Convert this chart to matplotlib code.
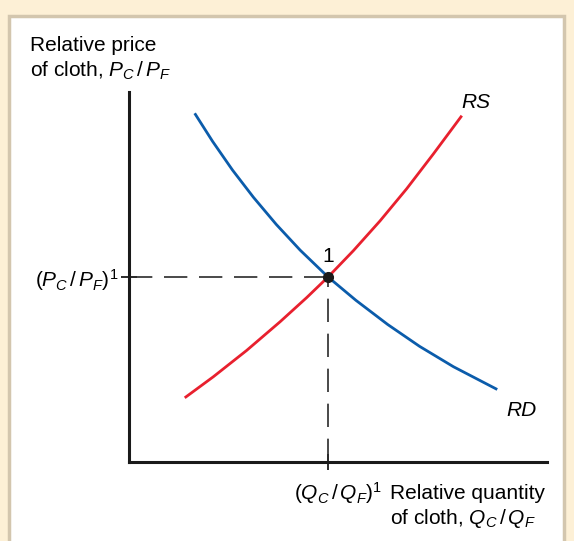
import matplotlib.pyplot as plt
from matplotlib.patches import Rectangle

plt.rcParams['font.family'] = ['Liberation Sans', 'DejaVu Sans']
plt.rcParams['mathtext.fontset'] = 'custom'
plt.rcParams['mathtext.rm'] = 'Liberation Sans'
plt.rcParams['mathtext.it'] = 'Liberation Sans:italic'

# relative demand curve
rd_x = [0.33, 0.42, 0.52, 0.625, 0.74, 0.86, 1.0, 1.14, 1.30, 1.46, 1.63, 1.85]
rd_y = [1.885, 1.733, 1.578, 1.431, 1.284, 1.145, 1.0, 0.874, 0.743, 0.625, 0.515, 0.392]

# relative supply curve
rs_x = [0.28, 0.424, 0.591, 0.759, 0.893, 1.0, 1.127, 1.261, 1.395, 1.529, 1.672]
rs_y = [0.347, 0.461, 0.603, 0.758, 0.889, 1.0, 1.142, 1.303, 1.477, 1.665, 1.872]

eq_x, eq_y = 1.0, 1.0

FS = 15
W, H = 574, 541
fig = plt.figure(figsize=(W / 100, H / 100), dpi=100)
fig.patch.set_facecolor('#fdf0d6')

# white panel with tan border
fig.patches.append(Rectangle((8.5 / W, -0.05), (564 - 8.5) / W, (H - 15.5) / H + 0.05,
                             transform=fig.transFigure, facecolor='white',
                             edgecolor='#d3c6ae', linewidth=2.5, zorder=0))

ax = fig.add_axes([129 / W, (H - 462) / H, (547 - 129) / W, (462 - 92) / H])
ax.set_zorder(2)
ax.set_facecolor('none')
ax.set_xlim(0, 2.1)
ax.set_ylim(0, 2.0)

for s in ['top', 'right']:
    ax.spines[s].set_visible(False)
for s in ['left', 'bottom']:
    ax.spines[s].set_linewidth(2.2)
    ax.spines[s].set_color('#1a1a1a')

ax.set_xticks([eq_x])
ax.set_yticks([eq_y])
ax.set_xticklabels([''])
ax.set_yticklabels([r'$(P_C\,/\,P_F)^1$'], fontsize=FS)
ax.tick_params(direction='inout', length=11, width=1.3, color='#1a1a1a', pad=2)
ax.annotate(r'$(Q_C\,/\,Q_F)^1$', xy=(eq_x, 0), xytext=(54, -31),
            textcoords='offset pixels', ha='right', va='center', fontsize=FS,
            annotation_clip=False)

# dashed guides
ax.plot([0, eq_x], [eq_y, eq_y], color='#2a2a2a', lw=1.2, dashes=(14, 7))
ax.plot([eq_x, eq_x], [0, eq_y], color='#2a2a2a', lw=1.2, dashes=(14, 7))

ax.plot(rd_x, rd_y, color='#0b5cab', lw=2.0, solid_capstyle='butt')
ax.plot(rs_x, rs_y, color='#e8202e', lw=2.0, solid_capstyle='butt')
ax.plot([eq_x], [eq_y], 'o', color='#1a1a1a', ms=7, zorder=5)

ax.text(eq_x, eq_y + 0.06, '1', fontsize=FS, ha='center', va='bottom')
ax.text(rs_x[-1] + 0.07, rs_y[-1] + 0.02, 'RS', fontsize=FS, style='italic',
        ha='center', va='bottom')
ax.text(rd_x[-1] + 0.12, rd_y[-1] - 0.06, 'RD', fontsize=FS, style='italic',
        ha='center', va='top')

fig.text(30 / W, 1 - 36 / H, 'Relative price\nof cloth, $P_C\\,/\\,P_F$', fontsize=FS,
         ha='left', va='top', linespacing=1.3)
fig.text(390 / W, 1 - 484 / H, 'Relative quantity\nof cloth, $Q_C\\,/\\,Q_F$', fontsize=FS,
         ha='left', va='top', linespacing=1.25)

fig.savefig('out.png', dpi=100, facecolor=fig.get_facecolor())
